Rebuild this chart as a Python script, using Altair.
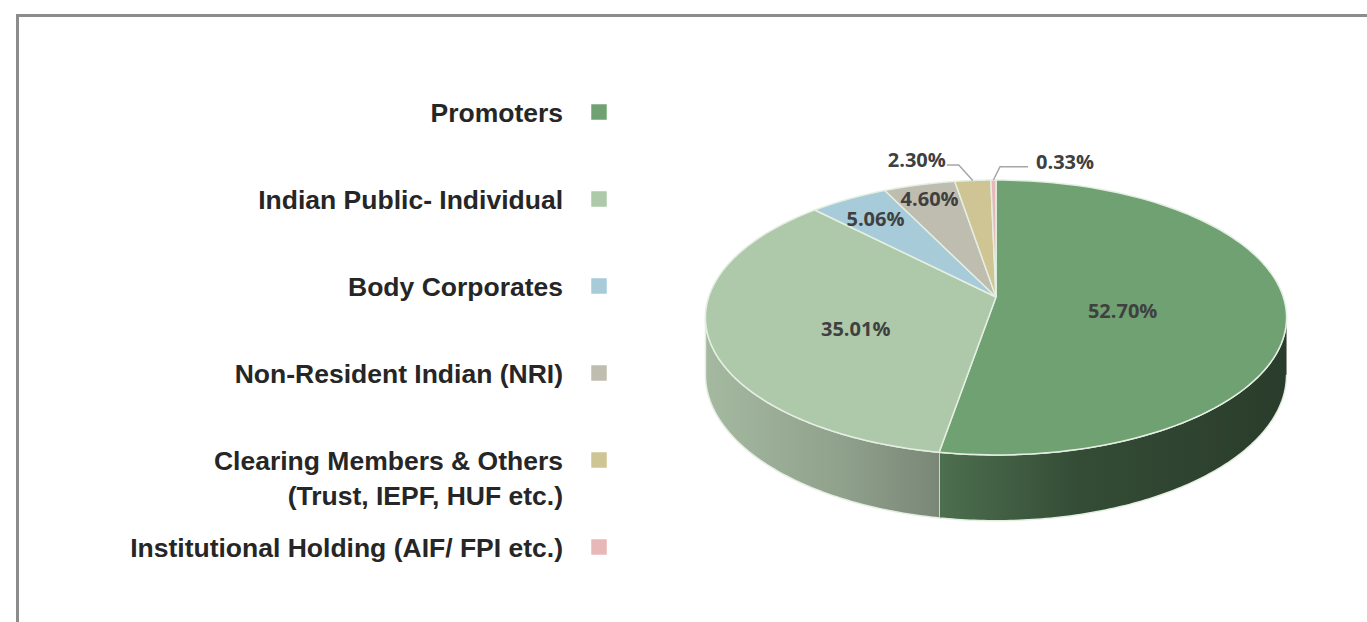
import altair as alt
import pandas as pd

# ---------------- data ----------------
categories = [
    "Promoters",
    "Indian Public- Individual",
    "Body Corporates",
    "Non-Resident Indian (NRI)",
    "Clearing Members & Others\n(Trust, IEPF, HUF etc.)",
    "Institutional Holding (AIF/ FPI etc.)",
]
values = [52.70, 35.01, 5.06, 4.60, 2.30, 0.33]

# ---------------- styles ----------------
colors = ["#70a172", "#aec9aa", "#a7cbd8", "#bfbcb0", "#cfc494", "#e8b7b7"]

# label placement (style): mode in/out, radial factor, offsets
label_style = {
    categories[0]: dict(mode="in", r=0.44, dy=10, ex=0, ey=0, hx=0, tx=0, ty=0),
    categories[1]: dict(mode="in", r=0.50, dy=13, ex=0, ey=0, hx=0, tx=0, ty=0),
    categories[2]: dict(mode="in", r=0.80, dy=3, ex=0, ey=0, hx=0, tx=0, ty=0),
    categories[3]: dict(mode="in", r=0.85, dy=0, ex=0, ey=0, hx=0, tx=0, ty=0),
    categories[4]: dict(mode="left", r=1.0, dy=0, ex=-14, ey=-15.5, hx=-12, tx=-1, ty=-4),
    categories[5]: dict(mode="right", r=1.0, dy=0, ex=6.6, ey=-13.4, hx=28, tx=8, ty=-4),
}

side_shades = {
    categories[0]: [("#4d6f4f", 0.0), ("#344c36", 0.4), ("#2a3c2b", 1.0)],
    categories[1]: [("#a5b9a1", 0.0), ("#8fa08b", 0.6), ("#7a8777", 1.0)],
}

W, H = 1367, 622
CX, CY = 996, 297          # apex of the pie
A, B, K = 287.3, 134.4, 0.149   # projected radii and perspective
DEPTH = 56
N = 120
EDGE = "#e4efe2"
LABEL_FONT = "Open Sans"
LEGEND_FONT = "Liberation Sans"

df = pd.DataFrame({"category": categories, "value": values, "order": list(range(len(categories)))})
for col in ["mode", "r", "dy", "ex", "ey", "hx", "tx", "ty"]:
    df[col] = [label_style[c][col] for c in categories]

X = alt.X("px:Q", scale=alt.Scale(domain=[0, W], range=[0, W], nice=False, zero=False), axis=None)
Y = alt.Y("py:Q", scale=alt.Scale(domain=[0, H], range=[0, H], nice=False, zero=False), axis=None)
COLOR = alt.Color("category:N", scale=alt.Scale(domain=categories, range=colors), legend=None)


def base():
    return (
        alt.Chart(df)
        .transform_joinaggregate(total="sum(value)")
        .transform_window(cum="sum(value)", sort=[alt.SortField("order", order="ascending")], frame=[None, 0])
        .transform_calculate(a0="2*PI*(datum.cum-datum.value)/datum.total")
        .transform_calculate(a1="2*PI*datum.cum/datum.total")
        .transform_calculate(m="(datum.a0+datum.a1)/2")
        .transform_calculate(label="format(datum.value, '.2f') + '%'")
    )


# border frame
border = alt.Chart(pd.DataFrame({"k": [0]})).mark_rect(
    filled=False, stroke="#8c8c8c", strokeWidth=3
).encode(x=alt.value(17.5), y=alt.value(15.5), x2=alt.value(W + 20), y2=alt.value(H + 20))

# side walls
sides = []
for cat in categories:
    stops = side_shades.get(cat)
    if stops is None:
        stops = [(colors[categories.index(cat)], 0.0), ("#555555", 1.0)]
    grad = alt.Gradient(
        gradient="linear",
        stops=[alt.GradientStop(color=c, offset=o) for c, o in stops],
        x1=0, x2=1, y1=0, y2=0,
    )
    side = (
        base()
        .transform_filter(alt.datum.category == cat)
        .transform_calculate(s0=f"max(datum.a0, acos(-{K}))")
        .transform_calculate(s1=f"min(datum.a1, 2*PI - acos(-{K}))")
        .transform_filter("datum.s1 > datum.s0")
        .transform_calculate(j=f"sequence(0, {2 * N + 2})")
        .transform_flatten(["j"])
        .transform_calculate(
            t=f"datum.j <= {N} ? datum.s0 + (datum.s1-datum.s0)*datum.j/{N} : datum.s1 - (datum.s1-datum.s0)*(datum.j-{N + 1})/{N}"
        )
        .transform_calculate(D=f"1 + {K}*cos(datum.t)")
        .transform_calculate(px=f"{CX} + {A}*sin(datum.t)/datum.D")
        .transform_calculate(py=f"{CY} - {B}*cos(datum.t)/datum.D + (datum.j > {N} ? {DEPTH}/datum.D : 0)")
        .mark_line(filled=True, fill=grad, stroke=EDGE, strokeWidth=1.5, strokeJoin="round")
        .encode(x=X, y=Y, order=alt.Order("j:Q"), detail="category:N")
    )
    sides.append(side)

# top faces
top = (
    base()
    .transform_calculate(i=f"sequence(0, {N + 3})")
    .transform_flatten(["i"])
    .transform_calculate(t=f"datum.a0 + (datum.a1-datum.a0)*clamp(datum.i-1, 0, {N})/{N}")
    .transform_calculate(apex=f"datum.i == 0 || datum.i == {N + 2}")
    .transform_calculate(D=f"1 + {K}*cos(datum.t)")
    .transform_calculate(px=f"datum.apex ? {CX} : {CX} + {A}*sin(datum.t)/datum.D")
    .transform_calculate(py=f"datum.apex ? {CY} : {CY} - {B}*cos(datum.t)/datum.D")
    .mark_line(filled=True, stroke=EDGE, strokeWidth=1.5, strokeJoin="round")
    .encode(x=X, y=Y, color=COLOR, detail="category:N", order=alt.Order("i:Q"))
)

# inside labels
inside = (
    base()
    .transform_filter("datum.mode == 'in'")
    .transform_calculate(D=f"1 + {K}*datum.r*cos(datum.m)")
    .transform_calculate(px=f"{CX} + {A}*datum.r*sin(datum.m)/datum.D")
    .transform_calculate(py=f"{CY} - {B}*datum.r*cos(datum.m)/datum.D + datum.dy")
    .mark_text(align="center", baseline="middle", font=LABEL_FONT, fontWeight="bold", fontSize=20, color="#404040")
    .encode(x=X, y=Y, text="label:N")
)


def outside_points():
    return (
        base()
        .transform_filter("datum.mode != 'in'")
        .transform_calculate(D=f"1 + {K}*cos(datum.m)")
        .transform_calculate(ex0=f"{CX} + {A}*sin(datum.m)/datum.D")
        .transform_calculate(ey0=f"{CY} - {B}*cos(datum.m)/datum.D")
    )


leaders = (
    outside_points()
    .transform_calculate(k="sequence(0, 3)")
    .transform_flatten(["k"])
    .transform_calculate(px="datum.ex0 + (datum.k >= 1 ? datum.ex : 0) + (datum.k >= 2 ? datum.hx : 0)")
    .transform_calculate(py="datum.ey0 + (datum.k >= 1 ? datum.ey : 0)")
    .mark_line(stroke="#a6a6a6", strokeWidth=1.5)
    .encode(x=X, y=Y, detail="category:N", order=alt.Order("k:Q"))
)


def out_text(mode, align):
    return (
        outside_points()
        .transform_filter(f"datum.mode == '{mode}'")
        .transform_calculate(px="datum.ex0 + datum.ex + datum.hx + datum.tx")
        .transform_calculate(py="datum.ey0 + datum.ey + datum.ty")
        .mark_text(align=align, baseline="middle", font=LABEL_FONT, fontWeight="bold", fontSize=20, color="#404040")
        .encode(x=X, y=Y, text="label:N")
    )


out_left = out_text("left", "right")
out_right = out_text("right", "left")

# legend
legend_sq = (
    alt.Chart(df)
    .transform_calculate(py="112 + 87*datum.order")
    .mark_square(size=240, opacity=1)
    .encode(x=alt.value(599), y=Y, color=COLOR)
)
legend_txt = (
    alt.Chart(df)
    .transform_calculate(py="112 + 87*datum.order + 9.5")
    .mark_text(
        align="right", baseline="alphabetic", lineBreak="\n", lineHeight=35,
        font=LEGEND_FONT, fontWeight="bold", fontSize=26.5, color="#262626",
    )
    .encode(x=alt.value(563), y=Y, text="category:N")
)

chart = (
    alt.layer(border, *sides, top, leaders, inside, out_left, out_right, legend_sq, legend_txt)
    .properties(width=W, height=H, padding=0, autosize="none", background="white")
    .configure_view(stroke=None)
)

chart.save("out.html", embed_options={"renderer": "svg", "actions": False})
